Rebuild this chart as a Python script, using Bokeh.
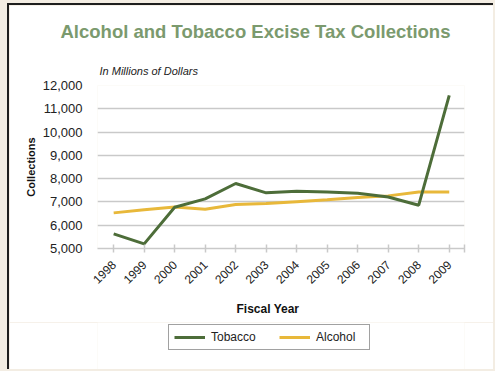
import math
from bokeh.plotting import figure
from bokeh.models import Legend, LegendItem, FixedTicker, Range1d, NumeralTickFormatter, ColumnDataSource, Title
from bokeh.layouts import column
from bokeh.embed import file_html
from bokeh.resources import INLINE

years = ["1998", "1999", "2000", "2001", "2002", "2003", "2004", "2005", "2006", "2007", "2008", "2009"]
tobacco = [5630, 5200, 6770, 7130, 7790, 7390, 7460, 7430, 7370, 7210, 6860, 11580]
alcohol = [6530, 6660, 6780, 6690, 6890, 6930, 7010, 7090, 7190, 7260, 7430, 7430]
y_ticks = [5000, 6000, 7000, 8000, 9000, 10000, 11000, 12000]

xs = list(range(len(years)))
src = ColumnDataSource(dict(x=xs, tobacco=tobacco, alcohol=alcohol))

FONT = "Liberation Sans"
GRID = "#c9c9c9"
TOB = "#4d6d39"
ALC = "#e8b83a"

p = figure(width=486, height=319, output_backend="svg", toolbar_location=None,
           x_range=Range1d(-0.53, 11.5), y_range=Range1d(5000, 12000),
           min_border_left=88, min_border_right=31, min_border_top=80, min_border_bottom=75,
           background_fill_color="white", border_fill_color="white",
           styles={"border-left": "2px solid #1e1e1e", "border-top": "2px solid #1e1e1e"})
p.title.text = ""
p.outline_line_color = None
p.xgrid.visible = False
p.ygrid.ticker = FixedTicker(ticks=y_ticks)
p.ygrid.grid_line_color = GRID
p.ygrid.grid_line_width = 1.5

# x axis
p.xaxis.ticker = FixedTicker(ticks=xs + [11.5])
overrides = {i: y for i, y in enumerate(years)}
overrides[11.5] = ""
p.xaxis.major_label_overrides = overrides
p.xaxis.major_label_orientation = math.pi / 4
p.xaxis.axis_line_color = GRID
p.xaxis.axis_line_width = 1.5
p.xaxis.major_tick_line_color = GRID
p.xaxis.major_tick_line_width = 1.5
p.xaxis.major_tick_in = 4
p.xaxis.major_tick_out = 4
p.xaxis.minor_tick_line_color = None
p.xaxis.major_label_text_font = FONT
p.xaxis.major_label_text_font_size = "12px"
p.xaxis.major_label_text_color = "#222222"
p.xaxis.major_label_standoff = 10

# y axis
p.yaxis.ticker = FixedTicker(ticks=y_ticks)
p.yaxis.formatter = NumeralTickFormatter(format="0,0")
p.yaxis.axis_line_color = None
p.yaxis.major_tick_line_color = None
p.yaxis.minor_tick_line_color = None
p.yaxis.major_label_text_font = FONT
p.yaxis.major_label_text_font_size = "13px"
p.yaxis.major_label_text_color = "#222222"
p.yaxis.major_label_standoff = 9
p.yaxis.axis_label = "Collections"
p.yaxis.axis_label_text_font = FONT
p.yaxis.axis_label_text_font_style = "bold"
p.yaxis.axis_label_text_font_size = "11px"
p.yaxis.axis_label_text_color = "#111111"
p.yaxis.axis_label_standoff = 3

p.line("x", "alcohol", source=src, line_color=ALC, line_width=3)
p.line("x", "tobacco", source=src, line_color=TOB, line_width=3)

# titles above (first added = nearest the frame)
t_sub = Title(text="In Millions of Dollars", align="left", offset=2,
              text_font=FONT, text_font_style="italic", text_font_size="11px",
              text_color="#222222", standoff=17)
t_main = Title(text="Alcohol and Tobacco Excise Tax Collections", align="left", offset=-37,
               text_font=FONT, text_font_style="bold", text_font_size="18.5px",
               text_color="#7b9a6e", standoff=26)
p.add_layout(t_sub, "above")
p.add_layout(t_main, "above")

# x-axis title below the tick labels
t_x = Title(text="Fiscal Year", align="left", offset=139,
            text_font=FONT, text_font_style="bold", text_font_size="12px",
            text_color="#111111", standoff=18)
p.add_layout(t_x, "below")

# legend figure (frame spans the canvas height, so nothing is clipped)
q = figure(width=486, height=47, output_backend="svg", toolbar_location=None,
           x_range=Range1d(0, 1), y_range=Range1d(0, 1), min_border=0,
           x_axis_location=None, y_axis_location=None,
           background_fill_color="white", border_fill_color="white",
           styles={"border-left": "2px solid #1e1e1e"})
q.outline_line_color = None
q.xgrid.visible = False
q.ygrid.visible = False
l_tob = q.line("x", "tobacco", source=src, line_color=TOB, line_width=3)
l_alc = q.line("x", "alcohol", source=src, line_color=ALC, line_width=3)

legend = Legend(items=[LegendItem(label="Tobacco", renderers=[l_tob]),
                       LegendItem(label="Alcohol", renderers=[l_alc])],
                orientation="horizontal", location=(71, 19))
legend.border_line_color = "#444444"
legend.border_line_width = 1.5
legend.background_fill_color = "white"
legend.background_fill_alpha = 1
legend.glyph_width = 31
legend.glyph_height = 12
legend.label_text_font = FONT
legend.label_text_font_size = "12px"
legend.label_text_color = "#222222"
legend.label_standoff = 6
legend.label_width = 48
legend.spacing = 20
legend.padding = 5
legend.margin = 0
q.add_layout(legend)

root = column(p, q, width=495, height=371, spacing=0,
              styles={"background-color": "#f3ede3", "padding-left": "7px", "padding-top": "3px"})

open("out.html", "w").write(file_html(root, INLINE))
